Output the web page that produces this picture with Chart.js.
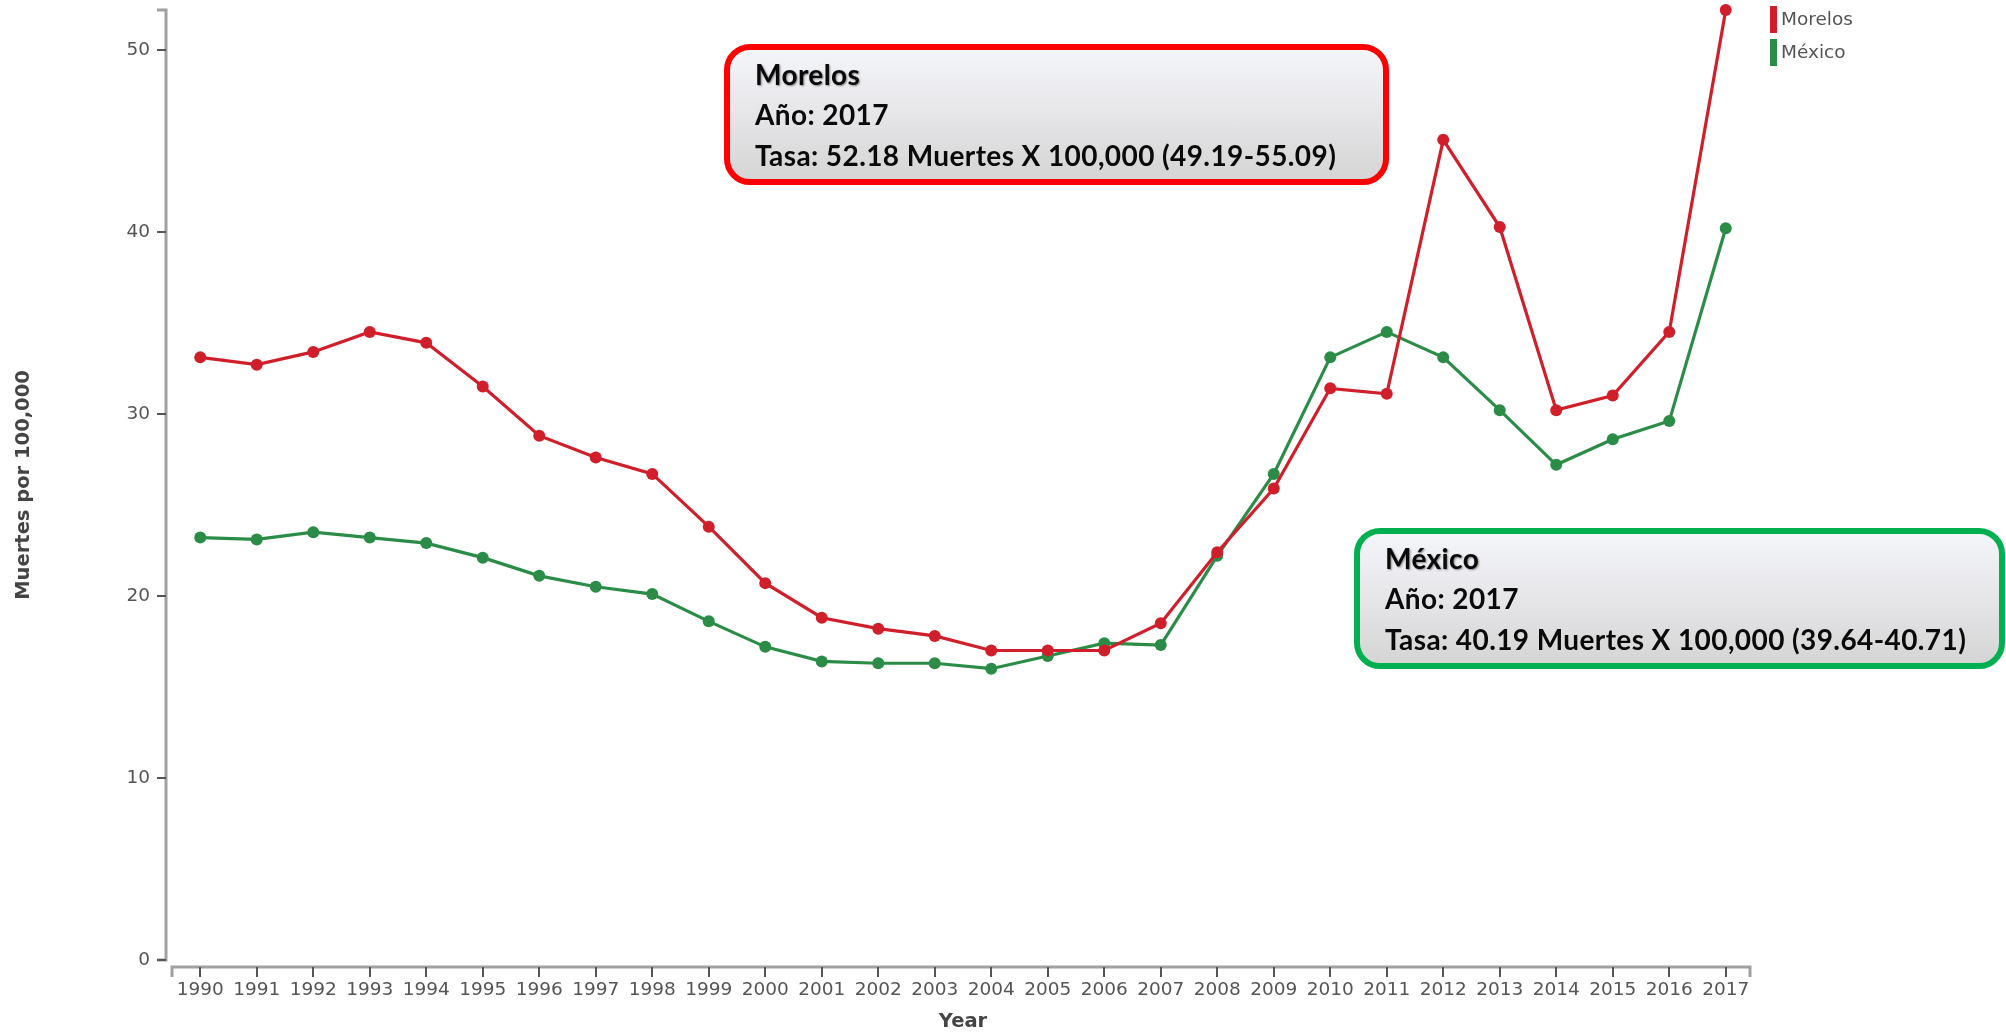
<!DOCTYPE html>
<html>
<head>
<meta charset="utf-8">
<script src="https://cdn.jsdelivr.net/npm/chart.js@4.4.1/dist/chart.umd.min.js"></script>
<style>
  html, body { margin: 0; padding: 0; background: #ffffff; }
  #wrap { position: relative; width: 2006px; height: 1035px; overflow: hidden; }
  #c { position: absolute; left: 0; top: 0; }
  .note {
    position: absolute; box-sizing: border-box; border-radius: 26px;
    background: linear-gradient(to bottom, #f4f5f9 0%, #e6e6e9 50%, #d5d5d5 100%);
    font-family: Lato, "Open Sans", sans-serif; font-weight: 700; font-size: 28px;
    letter-spacing: 0.4px; line-height: 40.5px; color: #0a0a0a;
    padding: 3.5px 0 0 25px; white-space: nowrap;
  }
  .note .t { text-shadow: 1px 1px 2px rgba(0,0,0,0.45); }
  #noteMorelos { left: 724px; top: 44px; width: 665px; height: 141px; border: 6px solid #ff0000; }
  #noteMexico { left: 1354px; top: 528px; width: 651px; height: 141px; border: 6px solid #00b050; }
</style>
</head>
<body>
<div id="wrap">
  <canvas id="c" width="2006" height="1035"></canvas>
  <div class="note" id="noteMorelos"><div class="t">Morelos</div><div>Año: 2017</div><div>Tasa: 52.18 Muertes X 100,000 (49.19-55.09)</div></div>
  <div class="note" id="noteMexico"><div class="t">México</div><div>Año: 2017</div><div>Tasa: 40.19 Muertes X 100,000 (39.64-40.71)</div></div>
</div>
<script>
// ---- data ----
const years = ['1990','1991','1992','1993','1994','1995','1996','1997','1998','1999',
               '2000','2001','2002','2003','2004','2005','2006','2007','2008','2009',
               '2010','2011','2012','2013','2014','2015','2016','2017'];
const morelos = [33.1, 32.7, 33.4, 34.5, 33.9, 31.5, 28.8, 27.6, 26.7, 23.8,
                 20.7, 18.8, 18.2, 17.8, 17.0, 17.0, 17.0, 18.5, 22.4, 25.9,
                 31.4, 31.1, 45.05, 40.26, 30.2, 31.0, 34.5, 52.18];
const mexico  = [23.2, 23.1, 23.5, 23.2, 22.9, 22.1, 21.1, 20.5, 20.1, 18.6,
                 17.2, 16.4, 16.3, 16.3, 16.0, 16.7, 17.4, 17.3, 22.2, 26.7,
                 33.1, 34.5, 33.1, 30.2, 27.2, 28.6, 29.6, 40.19];
const seriesNames = ['Morelos', 'México'];
const yTickStep = 10;
const yTitle = 'Muertes por 100,000';
const xTitle = 'Year';

const RED = '#d01f2a';
const GREEN = '#2b8c47';
const TICK_FONT = 'DejaVu Sans';

const yMax = Math.max(...morelos, ...mexico);

const axesPlugin = {
  id: 'd3axes',
  beforeDatasetsDraw(chart) {
    const { ctx, chartArea, scales } = chart;
    const x = scales.x, y = scales.y;
    const ax = chartArea.left - 6;
    const y0 = y.getPixelForValue(0);
    const yTop = y.getPixelForValue(yMax);
    const xb = chartArea.bottom + 7;
    ctx.save();
    ctx.strokeStyle = '#a0a0a0'; ctx.lineWidth = 3; ctx.lineCap = 'butt';
    ctx.beginPath();
    ctx.moveTo(ax - 9, yTop); ctx.lineTo(ax, yTop); ctx.lineTo(ax, y0); ctx.lineTo(ax - 9, y0);
    ctx.stroke();
    ctx.strokeStyle = '#555555'; ctx.lineWidth = 2;
    y.ticks.forEach(t => {
      const p = Math.round(y.getPixelForValue(t.value));
      ctx.beginPath(); ctx.moveTo(ax - 9, p); ctx.lineTo(ax, p); ctx.stroke();
    });
    ctx.strokeStyle = '#a0a0a0'; ctx.lineWidth = 3;
    ctx.beginPath();
    ctx.moveTo(chartArea.left, xb + 10); ctx.lineTo(chartArea.left, xb);
    ctx.lineTo(chartArea.right - 4, xb); ctx.lineTo(chartArea.right - 4, xb + 10);
    ctx.stroke();
    ctx.strokeStyle = '#555555'; ctx.lineWidth = 2;
    x.ticks.forEach((t, i) => {
      const p = Math.round(x.getPixelForTick(i));
      ctx.beginPath(); ctx.moveTo(p, xb); ctx.lineTo(p, xb + 10); ctx.stroke();
    });
    ctx.restore();
  }
};

const legendPlugin = {
  id: 'sideLegend',
  afterDraw(chart) {
    const { ctx } = chart;
    ctx.save();
    chart.data.datasets.forEach((ds, i) => {
      const top = 6 + 33 * i;
      ctx.fillStyle = ds.borderColor;
      ctx.fillRect(1770, top, 7, 27);
      ctx.fillStyle = '#555555';
      ctx.font = '18.5px "' + TICK_FONT + '"';
      ctx.textBaseline = 'middle';
      ctx.textAlign = 'left';
      ctx.fillText(ds.label, 1781, top + 14);
    });
    ctx.restore();
  }
};

new Chart(document.getElementById('c'), {
  type: 'line',
  data: {
    labels: years,
    datasets: [
      { label: seriesNames[0], data: morelos, borderColor: RED, backgroundColor: RED,
        pointBackgroundColor: RED, pointBorderWidth: 0, pointRadius: 6, borderWidth: 3.2,
        tension: 0, clip: false },
      { label: seriesNames[1], data: mexico, borderColor: GREEN, backgroundColor: GREEN,
        pointBackgroundColor: GREEN, pointBorderWidth: 0, pointRadius: 6, borderWidth: 3.2,
        tension: 0, clip: false }
    ]
  },
  options: {
    responsive: false,
    animation: false,
    layout: { padding: { left: 0, top: 10, right: 252, bottom: 0 } },
    plugins: { legend: { display: false }, tooltip: { enabled: false } },
    scales: {
      x: {
        type: 'category',
        offset: true,
        grid: { display: false, drawTicks: false },
        border: { display: false },
        ticks: { color: '#555555', padding: 19, maxRotation: 0, autoSkip: false,
                 font: { family: TICK_FONT, size: 18.5 } },
        title: { display: true, text: xTitle, color: '#444444',
                 font: { family: TICK_FONT, size: 19.5, weight: 'bold' },
                 padding: { top: 0, bottom: 1 } },
        afterFit(s) { s.height = 75; s.paddingLeft = 0; s.paddingRight = 0; }
      },
      y: {
        min: 0,
        max: yMax,
        grid: { display: false, drawTicks: false },
        border: { display: false },
        ticks: { stepSize: yTickStep, includeBounds: false, color: '#555555', padding: 22,
                 font: { family: TICK_FONT, size: 18.5 } },
        title: { display: true, text: yTitle, color: '#444444',
                 font: { family: TICK_FONT, size: 19.5, weight: 'bold' },
                 padding: { top: 12, bottom: 0 } },
        afterFit(s) { s.width = 172; s.paddingTop = 0; s.paddingBottom = 0; }
      }
    }
  },
  plugins: [axesPlugin, legendPlugin]
});
</script>
</body>
</html>
